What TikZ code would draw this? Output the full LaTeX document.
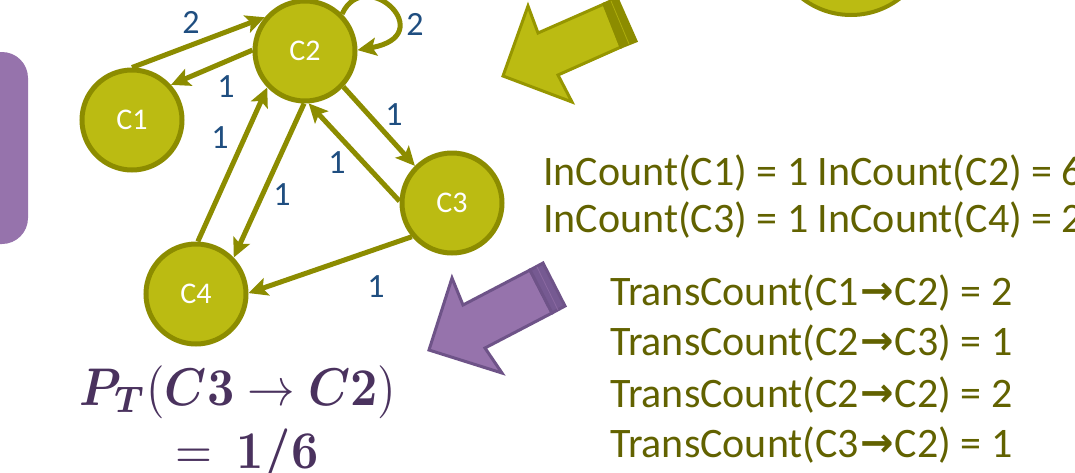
\documentclass[tikz,border=0pt]{standalone}
\usepackage{amsmath}
\usepackage{fontspec}
\setmainfont{Carlito}
\newfontfamily\arrowfont{DejaVu Sans}
\usetikzlibrary{arrows.meta}
\definecolor{olivefill}{RGB}{187,187,18}
\definecolor{olivedark}{RGB}{140,140,0}
\definecolor{oliveline}{RGB}{150,150,0}
\definecolor{olivetext}{RGB}{98,98,0}
\definecolor{labelblue}{RGB}{31,78,128}
\definecolor{purplefill}{RGB}{150,115,172}
\definecolor{purpledark}{RGB}{110,83,136}
\definecolor{purpleface}{RGB}{118,90,146}
\definecolor{formulacol}{RGB}{74,50,94}
\newcommand{\tarr}{\hspace{1pt}{\arrowfont\bfseries\fontsize{40}{40}\selectfont\raisebox{1pt}{→}}\hspace{1pt}}
\begin{document}
\begin{tikzpicture}[x=1pt,y=-1pt,
  state/.style={circle, fill=olivefill, draw=olivedark, line width=5pt,
    minimum size=100pt, inner sep=0pt, text=white, font=\fontsize{30}{34}\selectfont},
  trans/.style={draw=olivedark, line width=5pt,
    -{Stealth[length=19pt,width=18pt,inset=4pt]}},
  wlabel/.style={text=labelblue, font=\fontsize{34}{38}\selectfont, inner sep=0pt},
  counttext/.style={text=olivetext, anchor=base west, inner sep=0pt,
    font=\fontsize{42}{50}\selectfont},
  blockarrow/.style={line width=3pt, line join=miter},
  formula/.style={text=formulacol, anchor=base, inner sep=0pt, xscale=4.75, yscale=5.3},
]
\useasboundingbox (0,0) rectangle (1075,472);
\clip (0,0) rectangle (1075,472);

% left purple panel
\fill[purplefill, rounded corners=26pt] (-40,52) rectangle (28,244);

% top-right cut-off circle
\filldraw[fill=olivefill, draw=olivedark, line width=4pt] (851,-65) circle (80pt);

% olive block arrow
\filldraw[blockarrow, fill=olivefill, draw=oliveline]
  (503,76) -- (528,6) -- (538,33) -- (604,4) -- (621,47) -- (558,75) -- (572,102) -- cycle;
\filldraw[blockarrow, fill=olivedark, draw=olivedark]
  (604,4) -- (617,-2) -- (636,41) -- (621,47) -- cycle;
\draw[olivefill!70!olivedark, line width=0.8pt] (611,1) -- (629,44);

% purple block arrow
\filldraw[blockarrow, fill=purplefill, draw=purpledark]
  (429,350) -- (452,278) -- (463,305) -- (530,270) -- (552,313) -- (485,348) -- (502,373) -- cycle;
\filldraw[blockarrow, fill=purpleface, draw=purpledark]
  (530,270) -- (543,263) -- (565,306) -- (552,313) -- cycle;
\draw[purplefill!70!purpledark, line width=0.8pt] (537,267) -- (558,310);

% states
\node[state] (C1) at (132,120) {C1};
\node[state] (C2) at (305,51) {C2};
\node[state] (C3) at (452,203) {C3};
\node[state] (C4) at (196,294) {C4};

% transitions
\draw[trans] (C1.90) -- (C2.140);
\draw[trans] (C2.179) -- (C1.42);
\draw[trans] (C2.45) .. controls +(65:55pt) and +(10:85pt) .. (C2.1);
\draw[trans] (C2.-43) -- (C3.135);
\draw[trans] (C3.178) -- (C2.-86);
\draw[trans] (C4.88) -- (C2.224);
\draw[trans] (C2.-91) -- (C4.44);
\draw[trans] (C3.220) -- (C4.1);

% weights
\node[wlabel] (l12) at (191,22) {2};
\node[wlabel] (l21) at (226,87) {1};
\node[wlabel] (l22) at (415,24) {2};
\node[wlabel] (l23) at (394,115) {1};
\node[wlabel] (l32) at (337,163) {1};
\node[wlabel] (l42) at (220,138) {1};
\node[wlabel] (l24) at (282,195) {1};
\node[wlabel] (l34) at (376,287) {1};

% counts
\node[counttext] (in1) at (543,185) {InCount(C1) = 1 InCount(C2) = 6};
\node[counttext] (in2) at (543,232) {InCount(C3) = 1 InCount(C4) = 2};
\node[counttext] (t1) at (610,305) {TransCount(C1\tarr C2) = 2};
\node[counttext] (t2) at (610,355) {TransCount(C2\tarr C3) = 1};
\node[counttext] (t3) at (610,407) {TransCount(C2\tarr C2) = 2};
\node[counttext] (t4) at (610,457) {TransCount(C3\tarr C2) = 1};

% formula
\node[formula] (f1) at (238,405)
  {$\boldsymbol{P_T}(\boldsymbol{C3}\rightarrow\boldsymbol{C2})$};
\node[formula] (f2) at (247,468)
  {$=\ \boldsymbol{1/6}$};
\end{tikzpicture}
\end{document}
